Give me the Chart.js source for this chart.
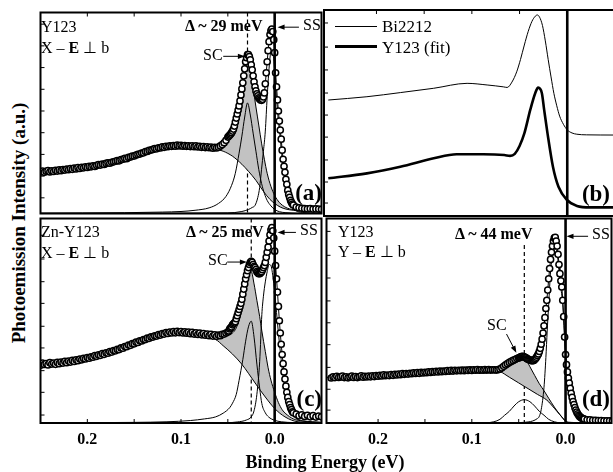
<!DOCTYPE html>
<html>
<head>
<meta charset="utf-8">
<title>Espectros de fotoemisión</title>
<script src="https://cdn.jsdelivr.net/npm/chart.js@4.4.1/dist/chart.umd.min.js"></script>
<style>
  html, body { margin: 0; padding: 0; background: #fff; }
  #figura { position: relative; width: 613px; height: 472px; overflow: hidden;
            font-family: "Liberation Serif", "Times New Roman", serif; color: #000; }
  #figura canvas { position: absolute; }
  .txt { position: absolute; white-space: nowrap; line-height: 1; font-size: 16px; transform: translateY(-50%); }
  .bold { font-weight: bold; }
  .letra { font-weight: bold; font-size: 23px; }
  .leyenda { font-size: 17px; }
  .leg-line { position: absolute; background: #000; }
  #titulo-y { position: absolute; left: 18px; top: 223px; white-space: nowrap; font-weight: bold; font-size: 19px;
              line-height: 1; transform: translate(-50%, -50%) rotate(-90deg); }
  #titulo-x { position: absolute; left: 325px; top: 462px; white-space: nowrap; font-weight: bold; font-size: 18px;
              line-height: 1; transform: translate(-50%, -50%); }
</style>
</head>
<body>
<div id="figura">
  <canvas id="panel-a" width="292" height="212" style="left:35px;top:7px"></canvas>
  <canvas id="panel-b" width="296" height="212" style="left:321px;top:7px"></canvas>
  <canvas id="panel-c" width="292" height="240" style="left:35px;top:213px"></canvas>
  <canvas id="panel-d" width="296" height="240" style="left:321px;top:213px"></canvas>

  <!-- panel (a) -->
  <div class="txt" style="left:41px;top:27px">Y123</div>
  <div class="txt" style="left:41px;top:48px">X – <b>E</b> ⊥ b</div>
  <div class="txt bold" style="left:185px;top:26px">Δ ~ 29 meV</div>
  <div class="txt" style="left:203px;top:55px">SC</div>
  <div class="txt" style="left:303px;top:25px">SS</div>
  <div class="txt letra" style="right:291px;top:192px">(a)</div>

  <!-- panel (b) -->
  <div class="leg-line" style="left:335px;top:26px;width:42px;height:1px"></div>
  <div class="leg-line" style="left:335px;top:45px;width:42px;height:3px"></div>
  <div class="txt leyenda" style="left:382px;top:26px">Bi2212</div>
  <div class="txt leyenda" style="left:382px;top:47px">Y123 (fit)</div>
  <div class="txt letra" style="right:3px;top:193px">(b)</div>

  <!-- panel (c) -->
  <div class="txt" style="left:41px;top:232px">Zn-Y123</div>
  <div class="txt" style="left:41px;top:253px">X – <b>E</b> ⊥ b</div>
  <div class="txt bold" style="left:186px;top:232px">Δ ~ 25 meV</div>
  <div class="txt" style="left:208px;top:260px">SC</div>
  <div class="txt" style="left:300px;top:230px">SS</div>
  <div class="txt letra" style="right:291px;top:398px">(c)</div>

  <!-- panel (d) -->
  <div class="txt" style="left:338px;top:232px">Y123</div>
  <div class="txt" style="left:338px;top:252px">Y – <b>E</b> ⊥ b</div>
  <div class="txt bold" style="left:455px;top:234px">Δ ~ 44 meV</div>
  <div class="txt" style="left:487px;top:325px">SC</div>
  <div class="txt" style="left:592px;top:234px">SS</div>
  <div class="txt letra" style="right:3px;top:398px">(d)</div>

  <div id="titulo-y">Photoemission Intensity (a.u.)</div>
  <div id="titulo-x">Binding Energy (eV)</div>
</div>

<script>
// ---------- Datos ----------
// Energía de ligadura (eV) de los espectros medidos (a), (c), (d)
const energyGrid = [
  0.250, 0.248, 0.246, 0.244, 0.242, 0.240, 0.238, 0.236, 0.234, 0.232,
  0.230, 0.228, 0.226, 0.224, 0.222, 0.220, 0.218, 0.216, 0.214, 0.212,
  0.210, 0.208, 0.206, 0.204, 0.202, 0.200, 0.198, 0.196, 0.194, 0.192,
  0.190, 0.188, 0.186, 0.184, 0.182, 0.180, 0.178, 0.176, 0.174, 0.172,
  0.170, 0.168, 0.166, 0.164, 0.162, 0.160, 0.158, 0.156, 0.154, 0.152,
  0.150, 0.148, 0.146, 0.144, 0.142, 0.140, 0.138, 0.136, 0.134, 0.132,
  0.130, 0.128, 0.126, 0.124, 0.122, 0.120, 0.118, 0.116, 0.114, 0.112,
  0.110, 0.108, 0.106, 0.104, 0.102, 0.100, 0.098, 0.096, 0.094, 0.092,
  0.090, 0.088, 0.086, 0.084, 0.082, 0.080, 0.078, 0.076, 0.074, 0.072,
  0.070, 0.068, 0.066, 0.064, 0.062, 0.060, 0.058, 0.056, 0.054, 0.052,
  0.050, 0.049, 0.048, 0.047, 0.046, 0.045, 0.044, 0.043, 0.042, 0.041,
  0.040, 0.039, 0.038, 0.037, 0.036, 0.035, 0.034, 0.033, 0.032, 0.031,
  0.030, 0.029, 0.028, 0.027, 0.026, 0.025, 0.024, 0.023, 0.022, 0.021,
  0.020, 0.019, 0.018, 0.017, 0.016, 0.015, 0.014, 0.013, 0.012, 0.011,
  0.010, 0.009, 0.008, 0.007, 0.006, 0.005, 0.004, 0.003, 0.002, 0.001,
  0.000, -0.001, -0.002, -0.003, -0.004, -0.005, -0.006, -0.007, -0.008, -0.009,
  -0.010, -0.011, -0.012, -0.013, -0.014, -0.015, -0.016, -0.017, -0.018, -0.019,
  -0.020,
  -0.023, -0.026, -0.029, -0.032, -0.035, -0.038, -0.041, -0.044, -0.047, -0.050
];

// (a) Y123, X - E perp b
const aCounts = [
  20.6, 21.1, 20.5, 21.0, 21.3, 20.7, 21.2, 20.9, 21.5, 21.1,
  21.7, 21.3, 21.9, 21.6, 22.1, 21.8, 22.3, 22.0, 22.6, 22.2,
  22.8, 22.4, 23.0, 22.7, 23.2, 22.9, 23.4, 23.2, 23.7, 23.4,
  23.9, 24.3, 24.1, 24.6, 24.4, 24.9, 25.2, 25.0, 25.5, 25.7,
  26.0, 26.3, 26.2, 26.8, 27.0, 27.4, 27.3, 27.9, 28.1, 28.5,
  28.6, 29.1, 29.4, 29.6, 30.1, 30.2, 30.8, 30.9, 31.4, 31.6,
  31.9, 32.3, 32.2, 32.7, 32.6, 33.1, 32.9, 33.4, 33.2, 33.6,
  33.4, 33.8, 33.5, 34.0, 33.6, 33.9, 33.5, 33.8, 33.4, 33.7,
  33.3, 33.7, 33.2, 33.6, 33.1, 33.4, 32.9, 33.3, 32.8, 33.2,
  32.7, 33.0, 32.5, 32.9, 32.6, 33.0, 33.6, 34.3, 35.2, 36.4,
  38.0, 38.5, 39.0, 39.5, 40.2, 41.0, 42.0, 43.5, 45.5, 47.5,
  49.5, 51.5, 53.5, 56.0, 59.0, 62.0, 65.0, 68.5, 72.0, 75.5,
  77.5, 79.0, 79.0, 78.0, 76.5, 74.0, 71.5, 68.5, 65.5, 63.0,
  61.0, 59.5, 58.5, 57.5, 57.0, 56.5, 56.3, 56.8, 58.0, 60.0,
  64.5, 70.0, 75.5, 81.0, 85.5, 89.0, 91.0, 91.8, 90.5, 86.5,
  80.0, 70.0, 63.0, 56.5, 51.0, 46.0, 41.5, 37.0, 31.5, 27.0,
  23.5, 20.5, 17.0, 14.5, 11.5, 9.5, 8.0, 6.5, 5.5, 4.7,
  4.2,
  3.2, 2.8, 2.6, 2.4, 2.3, 2.4, 2.2, 2.3, 2.2, 2.1
];
const aBgE = [0.25, 0.22, 0.19, 0.16, 0.13, 0.11, 0.09, 0.075, 0.065, 0.055, 0.045, 0.035, 0.028, 0.02, 0.012, 0.005, 0.0, -0.006, -0.012, -0.02, -0.035, -0.05];
const aBg  = [20.8, 22.0, 23.8, 27.2, 31.8, 33.6, 33.6, 33.0, 32.3, 31.0, 28.5, 24.5, 21.0, 16.5, 11.0, 7.0, 5.0, 3.2, 2.2, 1.6, 1.2, 1.0];
const aScE = [0.25, 0.16, 0.12, 0.1, 0.085, 0.07, 0.06, 0.052, 0.046, 0.042, 0.038, 0.035, 0.032, 0.029, 0.026, 0.023, 0.02, 0.017, 0.014, 0.011, 0.008, 0.004, 0.0, -0.005, -0.012, -0.025, -0.05];
const aSc  = [0.2, 0.4, 0.7, 1.0, 1.6, 2.8, 5.0, 8.5, 14, 20, 30, 38.5, 48, 55, 49, 40, 31, 22, 15, 10, 6.5, 3.8, 2.0, 0.9, 0.4, 0.1, 0.0];
const aSsE = [0.25, 0.05, 0.035, 0.028, 0.024, 0.021, 0.018, 0.016, 0.014, 0.012, 0.01, 0.008, 0.006, 0.004, 0.002, 0.0, -0.002, -0.004, -0.006, -0.008, -0.01, -0.012, -0.015, -0.018, -0.022, -0.03, -0.05];
const aSs  = [0.0, 0.3, 1.0, 2.0, 3.0, 4.0, 8.0, 13, 22, 31, 41, 58, 72, 80, 80, 71, 57, 46, 37, 27, 20, 14, 7.5, 3.5, 1.5, 0.5, 0.1];
const aShadeE    = [0.068, 0.062, 0.056, 0.052, 0.048, 0.044, 0.041, 0.038, 0.035, 0.032, 0.029, 0.026, 0.023, 0.020, 0.017, 0.014, 0.011, 0.008, 0.004, 0.0, -0.005, -0.012, -0.02, -0.035, -0.05];
const aShadeLow  = [32.6, 32.0, 31.2, 30.5, 29.4, 28.1, 27.0, 25.7, 24.5, 23.0, 21.5, 19.8, 18.2, 16.5, 14.4, 12.4, 10.4, 8.7, 6.6, 5.0, 3.5, 2.2, 1.6, 1.2, 1.0];
const aShadeHigh = [32.6, 33.0, 34.5, 36.5, 39.0, 42.0, 46.5, 53.0, 61.0, 69.0, 76.0, 71.0, 62.5, 53.0, 44.0, 35.0, 27.0, 20.0, 13.5, 9.0, 5.5, 3.0, 1.9, 1.3, 1.1];

// (b) comparación Bi2212 / ajuste Y123
const bThinE  = [0.2505, 0.21, 0.175, 0.14, 0.105, 0.084, 0.067, 0.063, 0.058, 0.053, 0.049, 0.045, 0.041, 0.037, 0.0335, 0.0315, 0.029, 0.026, 0.023, 0.020, 0.017, 0.014, 0.011, 0.008, 0.004, 0.0, -0.005, -0.01, -0.02, -0.049];
const bThin   = [56.3, 57.9, 59.9, 62.0, 64.4, 63.6, 62.7, 62.4, 65.0, 70.0, 76.0, 83.0, 89.5, 94.5, 97.0, 97.6, 96.5, 92.5, 85.0, 76.0, 67.5, 59.5, 53.5, 48.5, 44.5, 41.8, 40.3, 39.7, 39.4, 39.3];
const bThickE = [0.2505, 0.21, 0.175, 0.14, 0.116, 0.088, 0.066, 0.060, 0.055, 0.050, 0.045, 0.0388, 0.0336, 0.0305, 0.0266, 0.0242, 0.0207, 0.015, 0.0092, 0.0003, -0.0102, -0.024, -0.049];
const bThick  = [18.3, 20.7, 23.9, 28.0, 30.0, 30.0, 29.6, 29.2, 30.2, 34.0, 40.1, 51.5, 59.6, 62.3, 59.6, 51.5, 40.1, 23.9, 14.2, 7.8, 4.9, 4.2, 4.2];

// (c) Zn-Y123, X - E perp b
const cCounts = [
  28.2, 29.3, 28.6, 29.1, 28.4, 29.5, 28.8, 29.3, 28.7, 29.6,
  29.0, 29.8, 29.3, 30.1, 29.5, 30.3, 29.8, 30.6, 30.1, 30.9,
  30.5, 31.3, 30.9, 31.6, 31.3, 32.0, 31.7, 32.4, 32.2, 32.9,
  32.6, 33.3, 33.1, 33.9, 33.6, 34.3, 34.1, 34.9, 34.7, 35.4,
  35.3, 36.0, 35.9, 36.7, 36.6, 37.4, 37.3, 38.1, 38.0, 38.8,
  38.7, 39.5, 39.4, 40.2, 40.1, 40.8, 40.8, 41.5, 41.4, 42.1,
  42.0, 42.6, 42.5, 43.2, 43.0, 43.7, 43.5, 44.2, 43.8, 44.5,
  44.0, 44.7, 44.1, 44.8, 44.2, 44.7, 44.0, 44.6, 43.9, 44.4,
  43.7, 44.3, 43.5, 44.1, 43.3, 43.9, 43.1, 43.7, 42.9, 43.5,
  42.7, 43.3, 42.5, 43.1, 42.4, 43.0, 42.7, 43.4, 43.5, 44.0,
  44.5, 45.0, 46.0, 46.5, 47.0, 48.0, 48.5, 49.0, 49.5, 51.0,
  52.5, 54.0, 55.5, 57.0, 58.5, 60.5, 63.0, 65.5, 68.0, 70.5,
  72.5, 74.5, 76.0, 77.5, 78.5, 79.0, 78.5, 77.5, 76.5, 76.0,
  75.0, 74.0, 73.5, 73.0, 73.0, 73.5, 74.0, 75.0, 76.0, 77.0,
  78.5, 81.0, 83.5, 86.0, 89.0, 92.0, 94.5, 95.5, 94.0, 90.5,
  84.0, 77.0, 70.5, 64.0, 57.0, 50.0, 44.0, 38.5, 33.5, 29.0,
  25.0, 21.5, 18.0, 15.0, 12.5, 10.5, 9.0, 7.5, 6.5, 5.5,
  5.0,
  4.3, 3.5, 4.0, 3.2, 3.8, 3.0, 3.6, 2.9, 3.4, 3.0
];
const cBgE = [0.25, 0.22, 0.19, 0.16, 0.13, 0.11, 0.09, 0.075, 0.063, 0.055, 0.045, 0.035, 0.028, 0.02, 0.01, 0.0, -0.011, -0.025, -0.05];
const cBg  = [28.6, 29.8, 32.5, 36.8, 42.2, 44.2, 44.0, 43.0, 40.9, 37.8, 33.7, 28.7, 24.3, 19.0, 12.7, 7.1, 3.0, 0.6, 0.2];
const cScE = [0.25, 0.15, 0.115, 0.09, 0.075, 0.063, 0.055, 0.048, 0.045, 0.041, 0.038, 0.034, 0.031, 0.028, 0.025, 0.022, 0.019, 0.016, 0.0137, 0.010, 0.0066, 0.0, -0.007, -0.02, -0.05];
const cSc  = [0.1, 0.3, 0.6, 1.2, 2.0, 3.0, 4.8, 7.5, 9.7, 14, 20.8, 31, 40, 47, 49.8, 42, 28.8, 17, 9.5, 5, 3, 1.3, 0.6, 0.2, 0.0];
const cSsE = [0.25, 0.06, 0.04, 0.03, 0.025, 0.022, 0.019, 0.016, 0.0137, 0.012, 0.010, 0.008, 0.006, 0.004, 0.002, 0.0, -0.002, -0.004, -0.006, -0.008, -0.01, -0.013, -0.016, -0.02, -0.03, -0.05];
const cSs  = [0.0, 0.1, 0.5, 1.5, 3, 6, 14, 30, 53, 62, 69, 74, 77.5, 77, 72, 64, 54, 44, 35, 27, 20, 12, 7, 3.5, 1, 0.2];
const cShadeE    = [0.066, 0.06, 0.055, 0.05, 0.045, 0.041, 0.038, 0.034, 0.031, 0.028, 0.025, 0.022, 0.019, 0.016, 0.0137, 0.010, 0.007, 0.004, 0.0, -0.004, -0.008, -0.012, -0.02, -0.03, -0.05];
const cShadeLow  = [41.5, 39.8, 37.8, 35.8, 33.7, 31.8, 30.3, 28.1, 26.3, 24.3, 22.3, 20.3, 18.3, 16.3, 14.9, 12.7, 11.0, 9.3, 7.1, 5.5, 4.0, 2.8, 1.4, 0.5, 0.2];
const cShadeHigh = [41.8, 42.2, 42.5, 43.0, 44.0, 46.5, 50.5, 58.0, 66.0, 71.5, 74.0, 68.0, 60.0, 52.0, 45.0, 35.0, 27.0, 21.0, 15.0, 10.0, 6.5, 4.5, 2.0, 1.0, 0.4];

// (d) Y123, Y - E perp b
const dCounts = [
  22.0, 22.6, 22.2, 22.8, 22.3, 22.5, 22.9, 22.2, 22.6, 22.1,
  22.5, 22.9, 22.3, 22.7, 22.2, 22.6, 23.0, 22.4, 22.8, 22.5,
  22.9, 22.6, 23.1, 22.7, 23.2, 22.9, 23.3, 23.0, 23.5, 23.1,
  23.4, 23.2, 23.7, 23.3, 23.8, 23.5, 23.9, 23.6, 24.1, 23.8,
  24.2, 23.9, 24.3, 24.1, 24.5, 24.2, 24.6, 24.3, 24.8, 24.5,
  24.8, 24.6, 25.0, 24.7, 25.1, 24.9, 25.3, 25.0, 25.4, 25.1,
  25.4, 25.2, 25.6, 25.3, 25.7, 25.4, 25.8, 25.5, 25.8, 25.6,
  25.9, 25.6, 25.9, 25.7, 26.0, 25.7, 26.0, 25.8, 26.1, 25.8,
  26.0, 25.8, 26.1, 25.9, 26.1, 25.9, 26.0, 26.0, 25.9, 26.1,
  26.4, 27.0, 27.7, 28.4, 29.0, 29.6, 30.1, 30.6, 31.0, 31.5,
  31.8, 32.0, 32.3, 32.5, 32.6, 32.5, 32.4, 32.0, 31.8, 31.4,
  31.2, 31.0, 30.8, 30.6, 30.5, 30.5, 30.6, 31.0, 31.5, 32.2,
  33.0, 33.8, 35.0, 36.5, 38.5, 41.0, 44.0, 47.5, 51.5, 56.0,
  60.0, 65.0, 70.5, 75.5, 80.0, 83.5, 86.5, 89.0, 90.5, 90.8,
  89.0, 86.5, 82.5, 77.5, 73.0, 69.5, 66.5, 60.0, 52.0, 42.0,
  33.5, 28.5, 25.0, 22.0, 19.5, 17.0, 14.5, 12.5, 10.5, 9.0,
  7.5, 6.3, 5.3, 4.5, 3.8, 3.2, 2.8, 2.5, 2.2, 2.0,
  1.9,
  1.6, 1.5, 1.3, 1.3, 1.2, 1.2, 1.1, 1.1, 1.1, 1.0
];
const dBgE = [0.255, 0.2, 0.15, 0.1, 0.075, 0.07, 0.06, 0.05, 0.04, 0.03, 0.02, 0.012, 0.006, 0.0, -0.006, -0.02, -0.049];
const dBg  = [22.3, 22.6, 23.9, 25.3, 25.8, 25.2, 22.4, 19.6, 16.8, 14.0, 11.2, 7.2, 4.0, 0.9, 0.3, 0.1, 0.0];
const dScE = [0.255, 0.1, 0.085, 0.0765, 0.07, 0.065, 0.06, 0.055, 0.05, 0.044, 0.038, 0.033, 0.028, 0.023, 0.018, 0.012, 0.006, 0.0, -0.049];
const dSc  = [0.0, 0.0, 0.1, 0.6, 1.8, 3.8, 5.7, 8.3, 10.4, 11.4, 10.4, 8.3, 5.7, 3.8, 1.8, 0.6, 0.1, 0.0, 0.0];
const dSsE = [0.255, 0.06, 0.045, 0.035, 0.03, 0.0283, 0.026, 0.023, 0.021, 0.0196, 0.018, 0.016, 0.014, 0.0127, 0.011, 0.009, 0.007, 0.005, 0.003, 0.001, 0.0, -0.003, -0.006, -0.01, -0.015, -0.025, -0.049];
const dSs  = [0.0, 0.1, 0.3, 1.0, 2.2, 3.0, 6.5, 17.5, 32, 45, 58, 74, 81.5, 84, 85, 83, 74, 66, 58, 41, 33, 21, 14, 7.5, 3.2, 0.8, 0.2];
const dShadeE    = [0.072, 0.068, 0.064, 0.06, 0.055, 0.05, 0.047, 0.044, 0.041, 0.038, 0.033, 0.028, 0.023, 0.018, 0.012, 0.006, 0.0];
const dShadeLow  = [25.6, 24.6, 23.5, 22.4, 21.0, 19.6, 18.8, 17.9, 17.1, 16.2, 14.8, 13.4, 12.0, 10.3, 7.2, 4.0, 0.9];
const dShadeHigh = [26.2, 27.2, 28.2, 29.2, 30.3, 31.0, 31.3, 31.4, 30.0, 27.5, 23.3, 19.2, 15.8, 12.1, 7.8, 4.1, 0.9];

// etiquetas del eje x
const tickLabels = [0.2, 0.1, 0.0];
const tickMarks = [0.2, 0.15, 0.1, 0.05];

// ---------- Utilidades ----------
function pts(xs, ys) {
  if (xs.length !== ys.length) console.warn('longitudes distintas', xs.length, ys.length);
  return xs.map((x, i) => ({ x: x, y: ys[i] }));
}

function serieMedida(ys) {
  return {
    data: pts(energyGrid, ys),
    showLine: true,
    borderColor: '#000',
    borderWidth: 1,
    pointRadius: 3.1,
    pointBorderWidth: 1.5,
    pointBackgroundColor: '#fff',
    pointBorderColor: '#000',
    tension: 0,
    order: 0
  };
}

function curva(xs, ys, ancho) {
  return {
    data: pts(xs, ys),
    borderColor: '#000',
    borderWidth: ancho || 1,
    pointRadius: 0,
    cubicInterpolationMode: 'monotone',
    fill: false,
    order: 1
  };
}

function sombra(xs, bajo, alto) {
  return [
    { data: pts(xs, bajo), borderColor: 'rgba(0,0,0,0)', pointRadius: 0,
      cubicInterpolationMode: 'monotone', fill: false, order: 2 },
    { data: pts(xs, alto), borderColor: '#000', borderWidth: 1, pointRadius: 0,
      backgroundColor: '#c2c2c2', cubicInterpolationMode: 'monotone', fill: '-1', order: 2 }
  ];
}

function flecha(ctx, x1, y1, x2, y2) {
  const ang = Math.atan2(y2 - y1, x2 - x1);
  const L = 7, W = 2.6;
  const c = Math.cos(ang), s = Math.sin(ang);
  ctx.beginPath();
  ctx.moveTo(x1, y1);
  ctx.lineTo(x2 - L * c * 0.7, y2 - L * s * 0.7);
  ctx.stroke();
  ctx.beginPath();
  ctx.moveTo(x2, y2);
  ctx.lineTo(x2 - L * c + W * s, y2 - L * s - W * c);
  ctx.lineTo(x2 - L * c - W * s, y2 - L * s + W * c);
  ctx.closePath();
  ctx.fill();
}

// Marco, marcas internas, línea en E = 0, línea discontinua y flechas
const panelDecor = {
  id: 'panelDecor',
  beforeDatasetsDraw(chart, args, opts) {
    if (opts.gapE == null) return;
    const { ctx, chartArea: a, scales: { x, y } } = chart;
    const px = x.getPixelForValue(opts.gapE);
    ctx.save();
    ctx.strokeStyle = '#000';
    ctx.lineWidth = 1.2;
    ctx.setLineDash([4, 3]);
    ctx.beginPath();
    ctx.moveTo(px, y.getPixelForValue(opts.gapTop));
    ctx.lineTo(px, a.bottom);
    ctx.stroke();
    ctx.restore();
  },
  afterDatasetsDraw(chart, args, opts) {
    const { ctx, chartArea: a, scales: { x, y } } = chart;
    ctx.save();
    ctx.strokeStyle = '#000';
    ctx.fillStyle = '#000';

    // línea gruesa en E = 0
    const x0 = x.getPixelForValue(0);
    ctx.lineWidth = 2.6;
    ctx.beginPath();
    ctx.moveTo(x0, a.top);
    ctx.lineTo(x0, a.bottom);
    ctx.stroke();

    // marcas hacia dentro
    ctx.lineWidth = 1;
    tickMarks.forEach(v => {
      const px = x.getPixelForValue(v);
      ctx.beginPath();
      if (opts.ladoX === 'top') { ctx.moveTo(px, a.top); ctx.lineTo(px, a.top + 4); }
      else { ctx.moveTo(px, a.bottom); ctx.lineTo(px, a.bottom - 4); }
      ctx.stroke();
    });
    (opts.marcasY || []).forEach(v => {
      const py = y.getPixelForValue(v);
      ctx.beginPath();
      ctx.moveTo(a.left, py);
      ctx.lineTo(a.left + 4, py);
      ctx.stroke();
    });

    // flechas SC / SS
    ctx.lineWidth = 1;
    (opts.flechas || []).forEach(f => {
      flecha(ctx, x.getPixelForValue(f.desde[0]), y.getPixelForValue(f.desde[1]),
                  x.getPixelForValue(f.hasta[0]), y.getPixelForValue(f.hasta[1]));
    });

    // marco
    ctx.lineWidth = 2;
    ctx.strokeRect(a.left, a.top, a.right - a.left, a.bottom - a.top);
    ctx.restore();
  }
};

function crearPanel(id, cfg) {
  const ctx = document.getElementById(id);
  return new Chart(ctx, {
    type: 'line',
    data: { datasets: cfg.datasets },
    options: {
      responsive: false,
      animation: false,
      devicePixelRatio: 1,
      events: [],
      layout: { padding: cfg.abajo ? { left: 3, right: 3, top: 3, bottom: 0 } : 3 },
      plugins: {
        legend: { display: false },
        tooltip: { enabled: false },
        panelDecor: cfg.decor
      },
      scales: {
        x: {
          type: 'linear',
          reverse: true,
          min: cfg.xMin,
          max: cfg.xMax,
          display: !!cfg.abajo,
          afterFit: s => { if (cfg.abajo) s.height = 30; },
          afterBuildTicks: s => { s.ticks = tickLabels.map(v => ({ value: v })); },
          ticks: {
            callback: v => Number(v).toFixed(1),
            color: '#000',
            padding: 7,
            maxRotation: 0,
            autoSkip: false,
            font: { family: '"Liberation Serif", "Times New Roman", serif', size: 16, weight: 'bold' }
          },
          grid: { display: false, drawTicks: false },
          border: { display: false }
        },
        y: { type: 'linear', min: 0, max: 100, display: false }
      }
    },
    plugins: [panelDecor]
  });
}

// ---------- Paneles ----------
const marcasIzq = [7.8, 18.6, 29.4, 40.2, 51.0, 61.8, 72.6, 83.4, 94.2];
const marcasIzqC = [3.9, 15.0, 25.6, 36.7, 47.3, 58.5, 69.1, 80.2, 91.8];
const marcasDer = [6.3, 16.5, 27.2, 38.3, 49.0, 59.7, 70.9, 82.0, 93.7];

crearPanel('panel-a', {
  xMin: -0.05, xMax: 0.25,
  datasets: [
    serieMedida(aCounts),
    curva(aBgE, aBg),
    curva(aScE, aSc),
    curva(aSsE, aSs),
    ...sombra(aShadeE, aShadeLow, aShadeHigh)
  ],
  decor: {
    gapE: 0.029, gapTop: 100, ladoX: 'top', marcasY: marcasIzq,
    flechas: [
      { desde: [0.0549, 78.2], hasta: [0.0318, 78.2] },
      { desde: [-0.0259, 92.7], hasta: [-0.0031, 92.7] }
    ]
  }
});

crearPanel('panel-b', {
  xMin: -0.049, xMax: 0.255,
  datasets: [
    curva(bThinE, bThin, 1),
    curva(bThickE, bThick, 2.6)
  ],
  decor: { gapE: null, ladoX: 'top', marcasY: marcasDer, flechas: [] }
});

crearPanel('panel-c', {
  abajo: true,
  xMin: -0.05, xMax: 0.25,
  datasets: [
    serieMedida(cCounts),
    curva(cBgE, cBg),
    curva(cScE, cSc),
    curva(cSsE, cSs),
    ...sombra(cShadeE, cShadeLow, cShadeHigh)
  ],
  decor: {
    gapE: 0.025, gapTop: 100, ladoX: 'bottom', marcasY: marcasIzqC,
    flechas: [
      { desde: [0.0507, 78.7], hasta: [0.0297, 78.7] },
      { desde: [-0.0227, 93.2], hasta: [-0.0031, 93.2] }
    ]
  }
});

crearPanel('panel-d', {
  abajo: true,
  xMin: -0.049, xMax: 0.255,
  datasets: [
    serieMedida(dCounts),
    curva(dBgE, dBg),
    curva(dScE, dSc),
    curva(dSsE, dSs),
    ...sombra(dShadeE, dShadeLow, dShadeHigh)
  ],
  decor: {
    gapE: 0.044, gapTop: 87, ladoX: 'bottom', marcasY: marcasDer,
    flechas: [
      { desde: [0.063, 43.5], hasta: [0.0525, 34.3] },
      { desde: [-0.024, 91.3], hasta: [-0.001, 91.3] }
    ]
  }
});
</script>
</body>
</html>
